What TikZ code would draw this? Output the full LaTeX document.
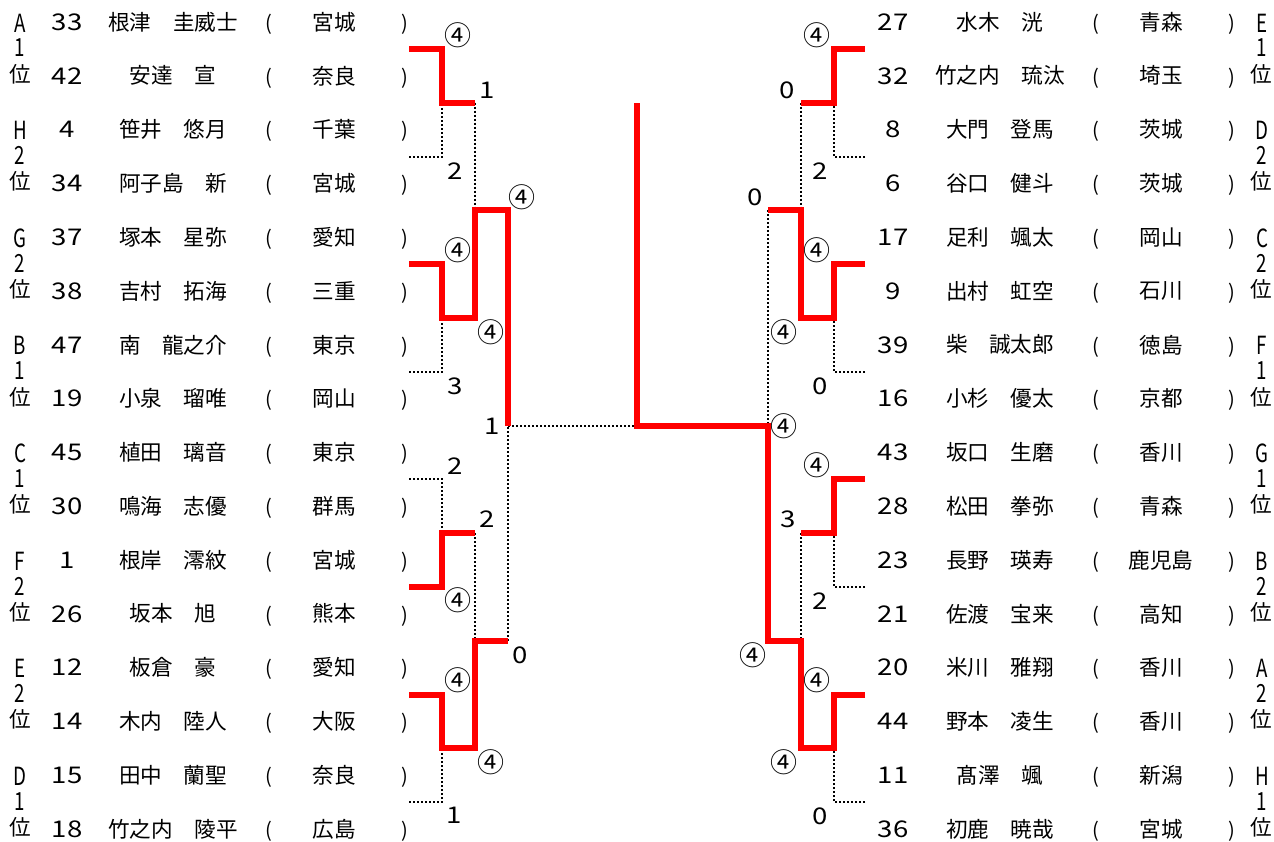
\documentclass[tikz,border=0pt]{standalone}
\usepackage{fontspec}
\setmainfont{Noto Sans CJK JP}
\newfontfamily\numfont[FakeStretch=1.2]{Noto Sans CJK JP}
\newfontfamily\seedfont[FakeStretch=0.75]{Noto Sans CJK JP}

\begin{document}
\begin{tikzpicture}[x=0.5pt,y=-0.5pt,
  nm/.style={inner sep=0pt,font=\fontsize{10.8pt}{12pt}\selectfont},
  num/.style={inner sep=0pt,font=\numfont\fontsize{11.5pt}{12pt}\selectfont},
  paren/.style={inner sep=0pt,font=\fontsize{10pt}{12pt}\selectfont},
  seed/.style={inner sep=0pt,font=\seedfont\fontsize{12.5pt}{14pt}\selectfont},
  score/.style={inner sep=0pt,font=\numfont\fontsize{11.5pt}{12pt}\selectfont},
  ring/.style={inner sep=0pt,font=\fontsize{13.5pt}{14pt}\selectfont},
  win/.style={draw=red,line width=3pt},
  lose/.style={draw=black,line width=1pt,dash pattern=on 1pt off 1pt}]
\useasboundingbox (0,0) rectangle (1274,841);
% ---- left block: players ----
\foreach \no/\who/\pref [count=\i] in {33/根津　圭威士/宮城, 42/安達　宣/奈良,
  4/笹井　悠月/千葉, 34/阿子島　新/宮城, 37/塚本　星弥/愛知, 38/吉村　拓海/三重,
  47/南　龍之介/東京, 19/小泉　瑠唯/岡山, 45/植田　璃音/東京, 30/鳴海　志優/群馬,
  1/根岸　澪紋/宮城, 26/坂本　旭/熊本, 12/板倉　豪/愛知, 14/木内　陸人/大阪,
  15/田中　蘭聖/奈良, 18/竹之内　陵平/広島}{
  \pgfmathsetmacro\yy{22+(\i-1)*53.8}
  \node[num]   (ln\i) at (67,\yy)    {\no};
  \node[nm]    (lw\i) at (173,\yy)   {\who};
  \node[paren] (lo\i) at (269,\yy+2) {(};
  \node[nm]    (lp\i) at (334,\yy)   {\pref};
  \node[paren] (lc\i) at (405,\yy+2) {)};
}
\foreach \ltr/\dg [count=\k] in {A/1,H/2,G/2,B/1,C/1,F/2,E/2,D/1}{
  \pgfmathsetmacro\yy{22+(2*\k-2)*53.8}
  \node[seed] (lsa\k) at (20,\yy+1)  {\ltr};
  \node[seed] (lsb\k) at (20,\yy+26) {\dg};
  \node[nm]   (lsc\k) at (20,\yy+52) {位};
}
% ---- right block: players ----
\foreach \no/\who/\pref [count=\i] in {27/水木　洸/青森, 32/竹之内　琉汰/埼玉,
  8/大門　登馬/茨城, 6/谷口　健斗/茨城, 17/足利　颯太/岡山, 9/出村　虹空/石川,
  39/柴　誠太郎/徳島, 16/小杉　優太/京都, 43/坂口　生磨/香川, 28/松田　拳弥/青森,
  23/長野　瑛寿/鹿児島, 21/佐渡　宝来/高知, 20/米川　雅翔/香川, 44/野本　凌生/香川,
  11/髙澤　颯/新潟, 36/初鹿　暁哉/宮城}{
  \pgfmathsetmacro\yy{22+(\i-1)*53.8}
  \node[num]   (rn\i) at (893,\yy)    {\no};
  \node[nm]    (rw\i) at (1000,\yy)   {\who};
  \node[paren] (ro\i) at (1096,\yy+2) {(};
  \node[nm]    (rp\i) at (1161,\yy)   {\pref};
  \node[paren] (rc\i) at (1232,\yy+2) {)};
}
\foreach \ltr/\dg [count=\k] in {E/1,D/2,C/2,F/1,G/1,B/2,A/2,H/1}{
  \pgfmathsetmacro\yy{22+(2*\k-2)*53.8}
  \node[seed] (rsa\k) at (1262,\yy+1)  {\ltr};
  \node[seed] (rsb\k) at (1262,\yy+26) {\dg};
  \node[nm]   (rsc\k) at (1261,\yy+52) {位};
}
% ---- bracket points ----
\foreach \k in {1,...,8}{
  \coordinate (lt\k) at (409,{22+(2*\k-1.5)*53.8});
  \coordinate (rt\k) at (865,{22+(2*\k-1.5)*53.8});
}
\foreach \m in {1,...,4}{
  \coordinate (lm\m) at (442,{22+(4*\m-2.5)*53.8});
  \coordinate (rm\m) at (834,{22+(4*\m-2.5)*53.8});
}
\coordinate (lq1) at (475,210.3);
\coordinate (lq2) at (475,640.7);
\coordinate (rq1) at (801,210.3);
\coordinate (rq2) at (801,640.7);
\coordinate (ls)  at (508,425.5);
\coordinate (rs)  at (768,425.5);
\coordinate (fin) at (637,425.5);
\coordinate (top) at (637,103);
% ---- left bracket ----
\draw[lose] (lt2) -| (lm1);
\draw[lose] (lt4) -| (lm2);
\draw[lose] (lt5) -| (lm3);
\draw[lose] (lt8) -| (lm4);
\draw[lose] (lm1 -| lq1) -- (lq1);
\draw[lose] (lm3 -| lq2) -- (lq2);
\draw[lose] (lq2 -| ls) -- (ls);
\draw[lose] (ls) -- (fin);
\draw[win] (lt1) -| (lm1) -- (lm1 -| lq1);
\draw[win] (lt3) -| (lm2) -- (lm2 -| lq1) -- (lq1) -- (lq1 -| ls) -- (ls);
\draw[win] (lt6) -| (lm3) -- (lm3 -| lq2);
\draw[win] (lt7) -| (lm4) -- (lm4 -| lq2) -- (lq2) -- (lq2 -| ls);
% ---- right bracket ----
\draw[lose] (rt2) -| (rm1);
\draw[lose] (rt4) -| (rm2);
\draw[lose] (rt6) -| (rm3);
\draw[lose] (rt8) -| (rm4);
\draw[lose] (rm1 -| rq1) -- (rq1);
\draw[lose] (rm3 -| rq2) -- (rq2);
\draw[lose] (rq1 -| rs) -- (rs);
\draw[win] (rt1) -| (rm1) -- (rm1 -| rq1);
\draw[win] (rt3) -| (rm2) -- (rm2 -| rq1) -- (rq1) -- (rq1 -| rs);
\draw[win] (rt5) -| (rm3) -- (rm3 -| rq2);
\draw[win] (rt7) -| (rm4) -- (rm4 -| rq2) -- (rq2) -- (rq2 -| rs) -- (rs) -- (fin) -- (top);
% ---- scores ----
\foreach \x/\y [count=\j] in {458/35, 491/332, 458/250, 522/197, 458/600, 458/680, 491/762,
  817/35, 817/250, 784/332, 784/426, 817/465, 753/655, 817/680, 784/762}
  \node[ring] (win\j) at (\x,\y) {④};
\foreach \x/\y/\s [count=\j] in {455/171/2, 487/90/1, 455/386/3, 492/426/1, 455/466/2,
  487/519/2, 520/655/0, 454/815/1, 787/90/0, 820/171/2, 755/197/0, 820/386/0,
  788/519/3, 820/601/2, 820/816/0}
  \node[score] (pts\j) at (\x,\y) {\s};
\end{tikzpicture}
\end{document}
